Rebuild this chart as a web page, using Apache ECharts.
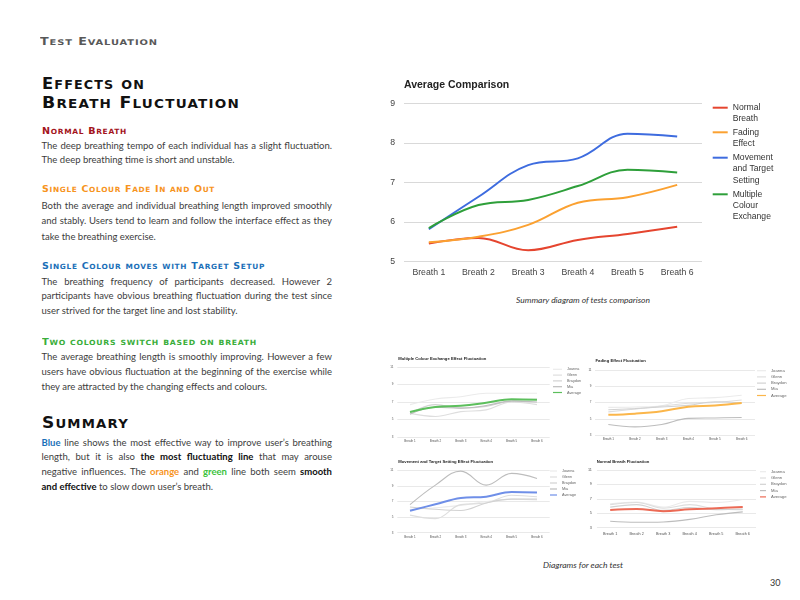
<!DOCTYPE html>
<html>
<head>
<meta charset="utf-8">
<script src="https://cdn.jsdelivr.net/npm/echarts/dist/echarts.min.js"></script>
<style>
html,body{margin:0;padding:0;background:#fff;}
body{width:800px;height:600px;position:relative;overflow:hidden;font-family:Lato,'Open Sans',sans-serif;}
.sc{position:absolute;font-family:'DejaVu Sans';font-weight:bold;white-space:nowrap;line-height:1;letter-spacing:0.07em;transform-origin:0 0;}
.sc span.s{font-size:0.78em;}
.p{position:absolute;left:41.5px;width:290.5px;color:#3d3d3d;}
.p div{white-space:nowrap;}
.p div.j{text-align:justify;text-align-last:justify;white-space:normal;}
.cap{position:absolute;font-style:italic;color:#333;white-space:nowrap;font-size:8.4px;line-height:1;transform-origin:0 0;}
.ch{position:absolute;}
b{font-weight:bold;color:#111;}
</style>
</head>
<body>
<div class="sc fit" data-w="118" style="left:40px;top:37.2px;font-size:10px;color:#585858;">Test Evaluation</div>
<div class="sc fit" data-w="103" style="left:41.5px;top:77.3px;font-size:15px;color:#111;">Effects on</div>
<div class="sc fit" data-w="198" style="left:41.5px;top:95.8px;font-size:15px;color:#111;">Breath Fluctuation</div>

<div class="sc fit" data-w="85" style="left:41.5px;top:125.6px;font-size:9.2px;color:#a3141c;">Normal Breath</div>
<div class="p" style="top:138.5px;line-height:14.3px;">
<div class="j">The deep breathing tempo of each individual has a slight fluctuation.</div>
<div>The deep breathing time is short and unstable.</div>
</div>

<div class="sc fit" data-w="173" style="left:41.5px;top:183.9px;font-size:9.2px;color:#f7941d;">Single Colour Fade In and Out</div>
<div class="p" style="top:198.2px;line-height:15.2px;">
<div class="j">Both the average and individual breathing length improved smoothly</div>
<div class="j">and stably. Users tend to learn and follow the interface effect as they</div>
<div>take the breathing exercise.</div>
</div>

<div class="sc fit" data-w="223" style="left:41.5px;top:261.3px;font-size:9.2px;color:#1b6fb8;">Single Colour moves with Target Setup</div>
<div class="p" style="top:274.8px;line-height:14.5px;">
<div class="j">The breathing frequency of participants decreased. However 2</div>
<div class="j">participants have obvious breathing fluctuation during the test since</div>
<div>user strived for the target line and lost stability.</div>
</div>

<div class="sc fit" data-w="215" style="left:41.5px;top:336.9px;font-size:9.2px;color:#3aae3a;">Two colours switch based on breath</div>
<div class="p" style="top:350.3px;line-height:14.7px;">
<div class="j">The average breathing length is smoothly improving. However a few</div>
<div class="j">users have obvious fluctuation at the beginning of the exercise while</div>
<div>they are attracted by the changing effects and colours.</div>
</div>

<div class="sc fit" data-w="87" style="left:41.5px;top:416.3px;font-size:15px;color:#111;">Summary</div>
<div class="p" style="top:435.6px;line-height:14.8px;">
<div class="j"><b style="color:#1b6fb8">Blue</b> line shows the most effective way to improve user’s breathing</div>
<div class="j">length, but it is also <b>the most fluctuating line</b> that may arouse</div>
<div class="j">negative influences. The <b style="color:#f7941d">orange</b> and <b style="color:#3cc23c">green</b> line both seem <b>smooth</b></div>
<div><b>and effective</b> to slow down user’s breath.</div>
</div>

<div class="cap fit" data-w="134" style="left:516px;top:296px;">Summary diagram of tests comparison</div>
<div class="cap fit" data-w="80" style="left:543px;top:561px;">Diagrams for each test</div>
<div style="position:absolute;left:770px;top:578px;font-size:9px;line-height:1;color:#333;">30</div>

<div id="main" class="ch" style="left:360px;top:70px;width:440px;height:240px;"></div>
<div id="cA" class="ch" style="left:385px;top:350px;width:200px;height:100px;"></div>
<div id="cB" class="ch" style="left:585px;top:350px;width:215px;height:100px;"></div>
<div id="cC" class="ch" style="left:385px;top:455px;width:200px;height:100px;"></div>
<div id="cD" class="ch" style="left:585px;top:455px;width:215px;height:100px;"></div>

<script>
// ---------- data ----------
const categories = ['Breath 1', 'Breath 2', 'Breath 3', 'Breath 4', 'Breath 5', 'Breath 6'];
const mainNames = ['Normal\nBreath', 'Fading\nEffect', 'Movement\nand Target\nSetting', 'Multiple\nColour\nExchange'];
const avgNormal   = [5.46, 5.60, 5.29, 5.55, 5.70, 5.88];
const avgFading   = [5.49, 5.63, 5.93, 6.49, 6.63, 6.94];
const avgMovement = [5.82, 6.64, 7.44, 7.61, 8.23, 8.16];
const avgMultiple = [5.85, 6.43, 6.56, 6.91, 7.32, 7.25];
const mainTicks = {min: 5, max: 9, interval: 1};

const people = ['Joanna', 'Glenn', 'Braydon', 'Mia'];
const multipleJoanna  = [6.7, 7.35, 7.6, 8.0, 8.0, 8.0];
const multipleGlenn   = [5.7, 5.35, 5.9, 6.1, 7.0, 6.7];
const multipleBraydon = [5.7, 6.7, 6.3, 6.5, 7.15, 7.3];
const multipleMia     = [5.6, 6.4, 6.3, 6.6, 7.1, 7.0];

const fadingJoanna  = [6.4, 6.45, 6.6, 7.5, 7.6, 7.9];
const fadingGlenn   = [5.85, 6.2, 6.55, 6.9, 7.0, 7.3];
const fadingBraydon = [6.1, 6.25, 6.45, 6.65, 7.1, 6.95];
const fadingMia     = [4.3, 4.0, 4.3, 5.05, 5.1, 5.15];

const movementJoanna  = [6.0, 6.2, 6.5, 7.0, 7.3, 7.2];
const movementGlenn   = [5.25, 4.8, 6.6, 6.8, 7.8, 7.6];
const movementBraydon = [6.3, 6.0, 5.85, 6.8, 7.3, 7.3];
const movementMia     = [6.6, 9.1, 10.9, 9.1, 10.6, 9.95];

const normalJoanna  = [6.3, 6.55, 5.85, 6.65, 6.5, 6.9];
const normalGlenn   = [6.2, 6.5, 5.7, 6.2, 5.6, 5.5];
const normalBraydon = [5.85, 6.2, 5.4, 5.8, 5.5, 5.6];
const normalMia     = [3.9, 3.75, 3.8, 4.15, 4.8, 5.2];
const smallTicks = {min: 3, max: 11, interval: 2};

// ---------- text fitting ----------
(function(){
  document.querySelectorAll('.sc').forEach(el => {
    const t = el.textContent;
    let html = '';
    for (const ch of t) {
      if (ch >= 'A' && ch <= 'Z') html += ch;
      else if (ch === ' ') html += ' ';
      else html += '<span class="s">' + ch.toUpperCase() + '</span>';
    }
    el.innerHTML = html;
  });
  const probe = document.createElement('span');
  probe.style.cssText = 'position:absolute;visibility:hidden;white-space:nowrap;font-family:Lato;font-size:10px;';
  document.body.appendChild(probe);
  let maxW = 0;
  document.querySelectorAll('.p div.j').forEach(d => {
    probe.innerHTML = d.innerHTML;
    maxW = Math.max(maxW, probe.getBoundingClientRect().width);
  });
  document.body.removeChild(probe);
  const fs = Math.min(10.2, 10 * 287 / maxW);
  document.querySelectorAll('.p').forEach(p => p.style.fontSize = fs.toFixed(2) + 'px');
  document.querySelectorAll('.fit').forEach(el => {
    const target = parseFloat(el.dataset.w);
    const nat = el.getBoundingClientRect().width;
    el.style.transform = 'scaleX(' + (target / nat).toFixed(4) + ')';
  });
})();

// ---------- main chart ----------
const mainColors = ['#e5452f', '#fba131', '#3e6cdf', '#2e9f3a'];
const mainData = [avgNormal, avgFading, avgMovement, avgMultiple];
const LH = 11.3;
const legendIconY = [37.7, 62.3, 87.7, 124.3];
const main = echarts.init(document.getElementById('main'), null, {renderer: 'canvas'});
main.setOption({
  animation: false,
  title: {text: 'Average Comparison', left: 44, top: 9.5, padding: 0,
    textStyle: {fontFamily: 'Liberation Sans', fontWeight: 'bold', fontSize: 10.5, color: '#222'}},
  grid: {left: 44, top: 33.3, width: 298, height: 158.4},
  xAxis: {type: 'category', data: categories, boundaryGap: true,
    axisLine: {show: false}, axisTick: {show: false},
    axisLabel: {margin: 6, fontSize: 8.7, color: '#444', fontFamily: 'Liberation Sans'}},
  yAxis: {type: 'value', min: mainTicks.min, max: mainTicks.max, interval: mainTicks.interval,
    axisLine: {show: false}, axisTick: {show: false},
    axisLabel: {margin: 9, fontSize: 8.7, color: '#444', fontFamily: 'Liberation Sans'},
    splitLine: {lineStyle: {color: '#d9d9d9', width: 1}}},
  legend: mainNames.map((nm, i) => {
    const n = nm.split('\n').length;
    const H = (2 * n - 1) * LH;
    return {data: [nm], orient: 'vertical', left: 352.7, top: legendIconY[i] - H / 2, padding: 0,
      icon: 'rect', itemWidth: 15, itemHeight: 2,
      formatter: name => '\u00a0\n'.repeat(n - 1) + name,
      textStyle: {fontFamily: 'Liberation Sans', fontSize: 8.6, lineHeight: LH, color: '#333'}};
  }),
  series: mainNames.map((nm, i) => ({
    type: 'line', name: nm, data: mainData[i], smooth: 0.4, symbol: 'none',
    lineStyle: {width: 2, color: mainColors[i]}, itemStyle: {color: mainColors[i]}
  }))
});

// ---------- small charts ----------
const greyColors = ['#ebebeb', '#dedede', '#d2d2d2', '#bdbdbd'];
function small(id, title, indiv, avg, avgColor, L) {
  const c = echarts.init(document.getElementById(id), null, {renderer: 'canvas'});
  const names = people.concat(['Average']);
  const series = indiv.map((d, i) => ({
    type: 'line', name: people[i], data: d, smooth: 0.4, symbol: 'none', z: 2,
    lineStyle: {width: 1.1, color: greyColors[i]}, itemStyle: {color: greyColors[i]}
  }));
  series.push({type: 'line', name: 'Average', data: avg, smooth: 0.4, symbol: 'none', z: 3,
    lineStyle: {width: 2, color: avgColor}, itemStyle: {color: avgColor}});
  c.setOption({
    animation: false,
    title: {text: title, left: L.tl, top: L.tt, padding: 0,
      textStyle: {fontFamily: 'Liberation Sans', fontWeight: 'bold', fontSize: 4.2, color: '#222'}},
    grid: {left: L.gl, top: L.gt, width: L.gw, height: L.gh},
    xAxis: {type: 'category', data: categories, boundaryGap: true,
      axisLine: {show: false}, axisTick: {show: false},
      axisLabel: {margin: L.xm, fontSize: L.fs, color: '#555', fontFamily: 'Liberation Sans'}},
    yAxis: {type: 'value', min: smallTicks.min, max: smallTicks.max, interval: smallTicks.interval,
      axisLine: {show: false}, axisTick: {show: false},
      axisLabel: {margin: L.ym, fontSize: L.fs, color: '#555', fontFamily: 'Liberation Sans'},
      splitLine: {lineStyle: {color: '#e3e3e3', width: 0.8}}},
    legend: {data: names, orient: 'vertical', left: L.ll, top: L.lt, padding: 0,
      icon: 'rect', itemWidth: L.iw, itemHeight: 1.2, itemGap: L.gap,
      textStyle: {fontFamily: 'Liberation Sans', fontSize: L.lf, lineHeight: 5, color: '#666'}},
    series: series
  });
}
small('cA', 'Multiple Colour Exchange Effect Fluctuation',
  [multipleJoanna, multipleGlenn, multipleBraydon, multipleMia], avgMultiple, '#5cbf5c',
  {tl: 13.3, tt: 7, gl: 12.3, gt: 17, gw: 152.4, gh: 70, xm: 3, ym: 4, fs: 3, ll: 168, lt: 16.8, iw: 9, gap: 0.8, lf: 3.8});
small('cB', 'Fading Effect Fluctuation',
  [fadingJoanna, fadingGlenn, fadingBraydon, fadingMia], avgFading, '#fbb64a',
  {tl: 10.5, tt: 9.2, gl: 10, gt: 20, gw: 160, gh: 65, xm: 3, ym: 3.5, fs: 3, ll: 172, lt: 18.2, iw: 9, gap: 1.2, lf: 4.2});
small('cC', 'Movement and Target Setting Effect Fluctuation',
  [movementJoanna, movementGlenn, movementBraydon, movementMia], avgMovement, '#6f8fe8',
  {tl: 13.3, tt: 5.2, gl: 12.3, gt: 15.3, gw: 152.4, gh: 62.4, xm: 2.5, ym: 4, fs: 3, ll: 165, lt: 13.5, iw: 7, gap: 1, lf: 3.8});
small('cD', 'Normal Breath Fluctuation',
  [normalJoanna, normalGlenn, normalBraydon, normalMia], avgNormal, '#ec6a55',
  {tl: 11.7, tt: 4.6, gl: 11, gt: 15, gw: 160, gh: 57.7, xm: 4, ym: 5, fs: 3.8, ll: 175, lt: 14.2, iw: 6, gap: 1.3, lf: 4.2});
</script>
</body>
</html>
